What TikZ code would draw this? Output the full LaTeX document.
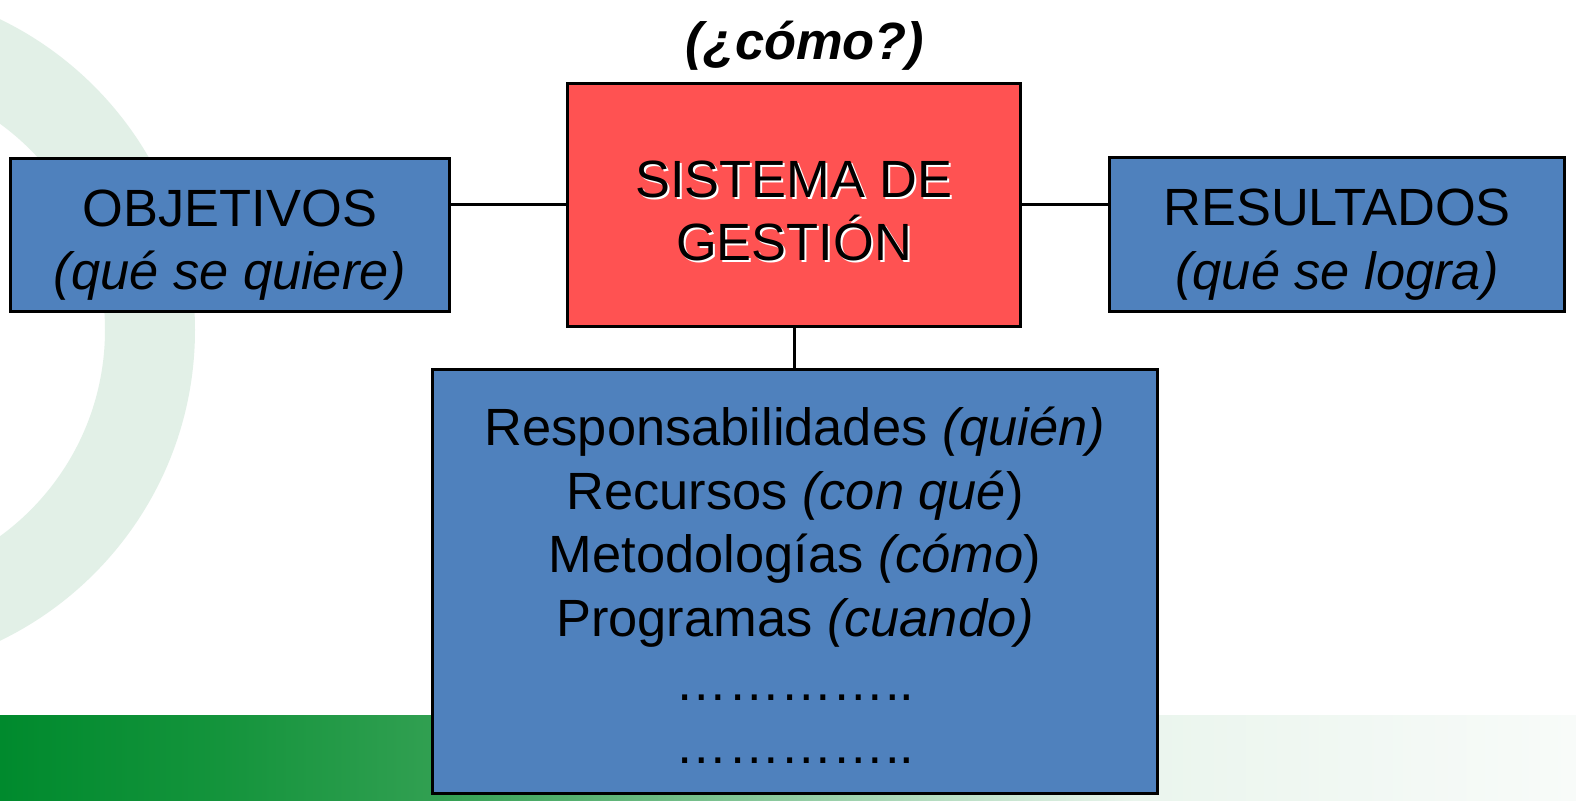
\documentclass[tikz,border=0pt]{standalone}
\usepackage{fontspec}
\setmainfont{Liberation Sans}
\usetikzlibrary{calc}

\definecolor{cajaazul}{RGB}{79,129,189}
\definecolor{cajaroja}{RGB}{255,82,82}
\definecolor{anillo}{RGB}{226,240,231}
\definecolor{verdeosc}{RGB}{0,138,45}
\definecolor{verdeint}{RGB}{20,148,60}
\definecolor{verdemed}{RGB}{50,160,82}
\definecolor{verdepal}{RGB}{234,245,237}
\definecolor{verdeclaro}{RGB}{248,251,249}
\pgfdeclarehorizontalshading{franja}{100bp}{color(0bp)=(verdeosc); color(25bp)=(verdeosc); color(32bp)=(verdeint); color(39bp)=(verdemed); color(61bp)=(verdepal); color(75bp)=(verdeclaro); color(100bp)=(verdeclaro)}

\newcommand{\letra}{\fontsize{14.9}{18.1}\selectfont}

\tikzset{
    caja/.style={draw=black, line width=0.03cm, inner sep=0pt},
    texto/.style={align=center, font=\letra, inner sep=0pt},
    enlace/.style={draw=black, line width=0.03cm},
}

\begin{document}
\begin{tikzpicture}[x=0.01cm, y=-0.01cm]
    % fondo
    \fill [white] (0, 0) rectangle (1576, 801);
    \useasboundingbox (0, 0) rectangle (1576, 801);
    \begin{scope}
        \clip (0, 0) rectangle (1576, 801);
        \fill [anillo, even odd rule] (-150, 330) circle [radius=345] (-150, 330) circle [radius=255];
    \end{scope}
    \shade [shading=franja] (0, 716) rectangle (1576, 801);

    % cajas
    \node [caja, fill=cajaazul, minimum width=4.39cm, minimum height=1.52cm] (objetivos) at (230, 235) {};
    \node [caja, fill=cajaroja, minimum width=4.52cm, minimum height=2.42cm] (sistema) at (794, 205) {};
    \node [caja, fill=cajaazul, minimum width=4.54cm, minimum height=1.53cm] (resultados) at (1337, 234.5) {};
    \node [caja, fill=cajaazul, minimum width=7.25cm, minimum height=4.23cm] (medios) at (795, 581.5) {};

    % textos
    \node [texto] (objetivostexto) at ($(objetivos.center) + (0, 10)$) {OBJETIVOS\\\textit{(qué se quiere)}};
    \node [texto, text=white] (sombra) at ($(sistema.center) + (2, 8)$) {SISTEMA DE\\GESTIÓN};
    \node [texto] (sistematexto) at ($(sistema.center) + (0, 6)$) {SISTEMA DE\\GESTIÓN};
    \node [texto] (resultadostexto) at ($(resultados.center) + (0, 10)$) {RESULTADOS\\\textit{(qué se logra)}};
    \node [texto] (mediostexto) at ($(medios.center) + (0, 4)$) {Responsabilidades \textit{(quién)}\\Recursos \textit{(con qué})\\Metodologías \textit{(cómo})\\Programas \textit{(cuando)}\\…………..\\…………..};
    \node [texto, font=\letra\bfseries\itshape] (como) at (805, 46) {(¿cómo?)};

    % enlaces
    \draw [enlace] (objetivos.east |- sistema.west) -- (sistema.west);
    \draw [enlace] (sistema.east) -- (sistema.east -| resultados.west);
    \draw [enlace] (sistema.south) -- (sistema.south |- medios.north);
\end{tikzpicture}
\end{document}
